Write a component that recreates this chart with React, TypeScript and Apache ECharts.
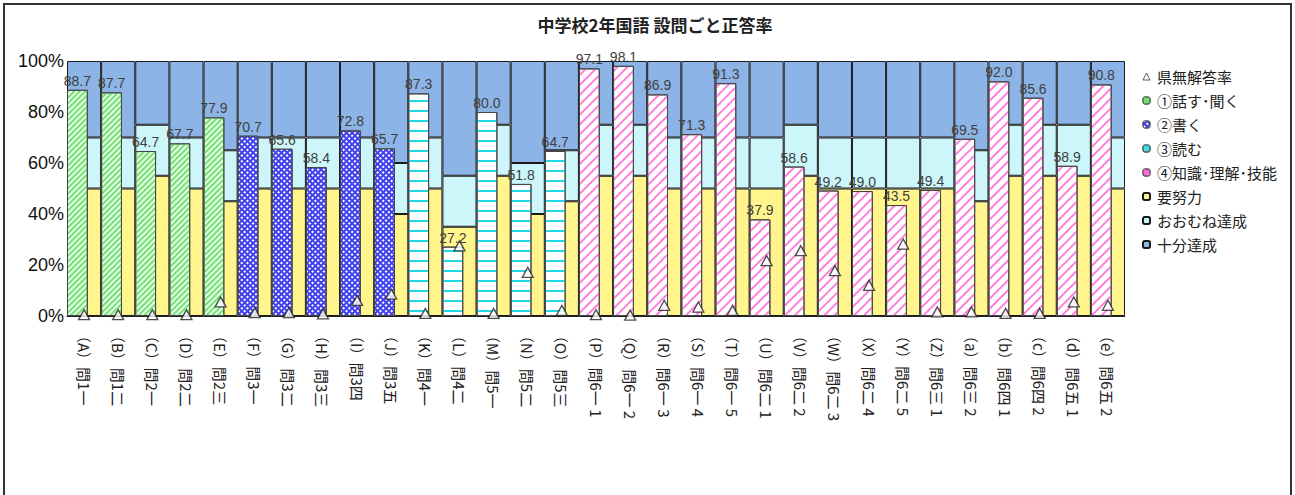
import React, { useEffect, useRef } from "react";
import * as echarts from "echarts";

const categories = [
  "（A）問1一", "（B）問1二", "（C）問2一", "（D）問2二", "（E）問2三",
  "（F）問3一", "（G）問3二", "（H）問3三", "（I）問3四", "（J）問3五",
  "（K）問4一", "（L）問4二", "（M）問5一", "（N）問5二", "（O）問5三",
  "（P）問6一 1", "（Q）問6一 2", "（R）問6一 3", "（S）問6一 4", "（T）問6一 5",
  "（U）問6二 1", "（V）問6二 2", "（W）問6二 3", "（X）問6二 4", "（Y）問6二 5",
  "（Z）問6三 1", "（a）問6三 2", "（b）問6四 1", "（c）問6四 2", "（d）問6五 1", "（e）問6五 2",
];

// 観点: 1=話す・聞く 2=書く 3=読む 4=知識・理解・技能
const domainOf = [1, 1, 1, 1, 1, 2, 2, 2, 2, 2, 3, 3, 3, 3, 3, 4, 4, 4, 4, 4, 4, 4, 4, 4, 4, 4, 4, 4, 4, 4, 4];

const correctRate = [
  88.7, 87.7, 64.7, 67.7, 77.9, 70.7, 65.6, 58.4, 72.8, 65.7,
  87.3, 27.2, 80.0, 51.8, 64.7, 97.1, 98.1, 86.9, 71.3, 91.3,
  37.9, 58.6, 49.2, 49.0, 43.5, 49.4, 69.5, 92.0, 85.6, 58.9, 90.8,
];

const noAnswerRate = [
  0.5, 0.5, 0.5, 0.5, 5.5, 1.3, 1.3, 0.8, 6.1, 8.6,
  1.0, 27.5, 1.0, 17.1, 2.2, 0.5, 0.3, 4.2, 3.5, 2.2,
  21.7, 25.6, 17.8, 12.0, 28.2, 1.6, 1.6, 1.0, 1.0, 5.5, 4.2,
];

// 要努力 の上限 (%)
const needsEffortTop = [
  50, 50, 55, 50, 45, 50, 50, 50, 50, 40,
  50, 35, 55, 40, 45, 55, 55, 50, 50, 50,
  50, 55, 50, 50, 50, 50, 45, 55, 55, 55, 50,
];
// おおむね達成 の上限 (%)
const mostlyTop = [
  70, 70, 75, 70, 65, 70, 70, 70, 70, 60,
  70, 55, 75, 60, 65, 75, 75, 70, 70, 70,
  70, 75, 70, 70, 70, 70, 65, 75, 75, 75, 70,
];

const domainNames = ["①話す･聞く", "②書く", "③読む", "④知識･理解･技能"];
const yTicks = [0, 20, 40, 60, 80, 100];

const JP = "'Noto Sans CJK JP', 'Noto Sans', sans-serif";
const NUM = "'Liberation Sans', Arial, sans-serif";

const domainStyles: any[] = [
  {
    color: "#e4ffe4",
    decal: { symbol: "rect", symbolSize: 1, color: "#77e077", dashArrayX: [1, 0], dashArrayY: [1.3, 2], rotation: -Math.PI / 4 },
  },
  {
    color: "#4040ee",
    decal: { symbol: "rect", symbolSize: 1, color: "#ffffff", dashArrayX: [1.2, 1.8], dashArrayY: [1.2, 1.8], rotation: -Math.PI / 4 },
  },
  {
    color: "#ffffff",
    decal: { symbol: "rect", symbolSize: 1, color: "#1fd8e4", dashArrayX: [1, 0], dashArrayY: [1.5, 7.5] },
  },
  {
    color: "#ffffff",
    decal: { symbol: "rect", symbolSize: 1, color: "#ff80dc", dashArrayX: [1, 0], dashArrayY: [1.5, 4.5], rotation: -Math.PI / 4 },
  },
];
const legendIconColors = ["#66e066", "#3c3cee", "#40dde8", "#ff66d6"];

export default function App() {
  const ref = useRef<HTMLDivElement>(null);
  useEffect(() => {
    const chart = echarts.init(ref.current!, null, { renderer: "svg" });
    const bgBorder = { borderColor: "#1a1a1a", borderWidth: 1 };
    const series: any[] = [
      {
        name: "要努力", type: "bar", xAxisIndex: 0, stack: "bg", barWidth: "100%", z: 1,
        itemStyle: { color: "#fff58c", ...bgBorder },
        data: needsEffortTop,
      },
      {
        name: "おおむね達成", type: "bar", xAxisIndex: 0, stack: "bg", barWidth: "100%", z: 1,
        itemStyle: { color: "#cdf6fa", ...bgBorder },
        data: mostlyTop.map((v, i) => v - needsEffortTop[i]),
      },
      {
        name: "十分達成", type: "bar", xAxisIndex: 0, stack: "bg", barWidth: "100%", z: 1,
        itemStyle: { color: "#8db4e6", ...bgBorder },
        data: mostlyTop.map((v) => 100 - v),
      },
    ];
    domainNames.forEach((name, d) => {
      series.push({
        name, type: "bar", xAxisIndex: 1, stack: "fg", barWidth: "61%", barGap: 0, z: 3,
        itemStyle: { ...domainStyles[d], borderColor: "#444", borderWidth: 1 },
        label: {
          show: true, position: "top", distance: 2, fontSize: 14, fontFamily: NUM, color: "#404040",
          formatter: (p: any) => Number(p.value).toFixed(1),
        },
        data: correctRate.map((v, i) => (domainOf[i] === d + 1 ? v : "-")),
      });
    });
    series.push({
      name: "_spacer", type: "bar", xAxisIndex: 1, barWidth: "39%", barGap: 0, silent: true,
      data: correctRate.map(() => "-"),
    });
    series.push({
      name: "県無解答率", type: "scatter", xAxisIndex: 0, z: 6,
      symbol: "triangle", symbolSize: [11, 10],
      itemStyle: { color: "#ffffff", borderColor: "#222", borderWidth: 1.3 },
      data: noAnswerRate,
    });

    chart.setOption({
      animation: false,
      backgroundColor: "#ffffff",
      title: {
        text: "中学校2年国語 設問ごと正答率",
        left: 650, top: 11, textAlign: "center",
        textStyle: { fontSize: 17, fontWeight: "bold", fontFamily: JP, color: "#222" },
      },
      legend: {
        orient: "vertical", left: 1137, top: 64, itemGap: 9, itemWidth: 7, itemHeight: 7,
        textStyle: { fontSize: 15, fontFamily: JP, color: "#222", padding: [0, 0, 0, 2] },
        data: [
          { name: "県無解答率", icon: "triangle", itemStyle: { color: "#ffffff", borderColor: "#333", borderWidth: 1 } },
          ...domainNames.map((n, i) => ({ name: n, itemStyle: { color: legendIconColors[i], borderColor: "#555", borderWidth: 1 } })),
          "要努力", "おおむね達成", "十分達成",
        ],
      },
      grid: { left: 67, right: 170, top: 61, bottom: 179 },
      xAxis: [
        {
          type: "category", data: categories,
          axisTick: { show: false },
          axisLine: { lineStyle: { color: "#222", width: 1 } },
          axisLabel: { rotate: -90, interval: 0, margin: 12, fontSize: 15, fontFamily: JP, color: "#222" },
        },
        { type: "category", data: categories, show: false },
      ],
      yAxis: {
        type: "value", min: 0, max: 100, interval: 20,
        splitLine: { show: false },
        axisLine: { show: false }, axisTick: { show: false },
        axisLabel: {
          margin: 3, fontSize: 18, fontFamily: NUM, color: "#111",
          formatter: (v: number) => (yTicks.includes(v) ? v + "%" : ""),
        },
      },
      graphic: [
        {
          type: "rect", shape: { x: 4, y: 4, width: 1287, height: 500 },
          style: { fill: "none", stroke: "#333", lineWidth: 2 }, z: 10, silent: true,
        },
      ],
      series,
    });
    return () => chart.dispose();
  }, []);
  return (
    <div
      ref={ref}
      style={{ position: "absolute", left: 0, top: 0, width: 1295, height: 495, background: "#fff" }}
    />
  );
}
